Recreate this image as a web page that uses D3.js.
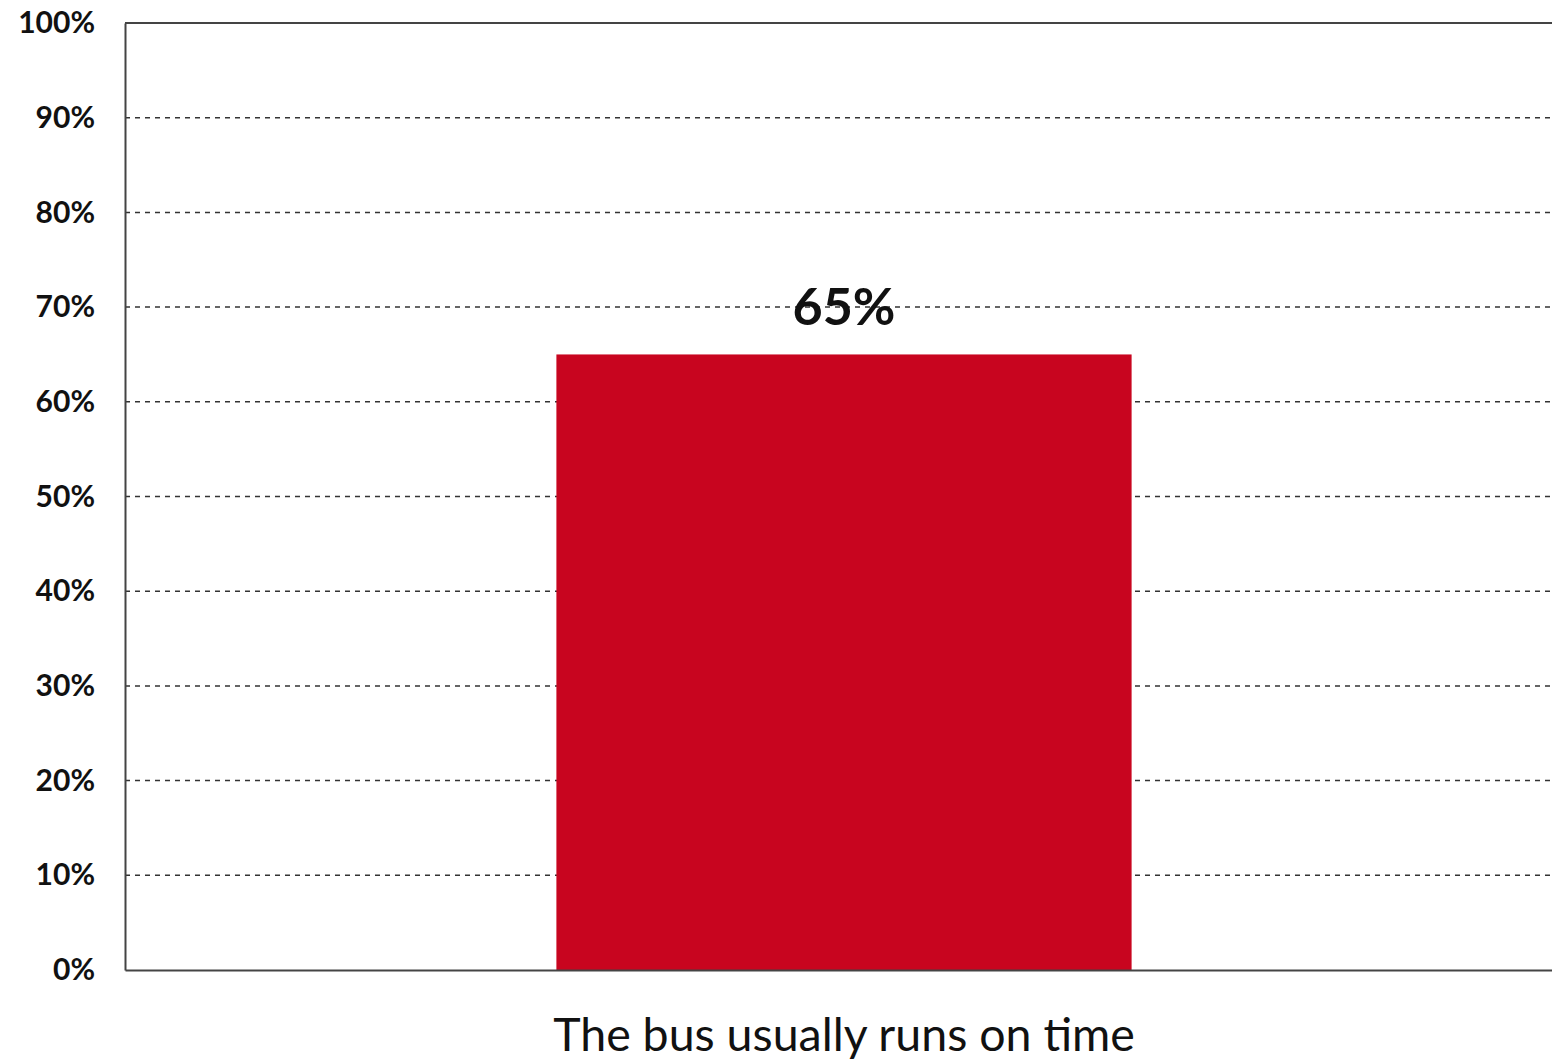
<!DOCTYPE html>
<html><head><meta charset="utf-8">
<script src="https://cdn.jsdelivr.net/npm/d3@7"></script>
<style>body{margin:0;background:#fff}svg{display:block}</style>
</head><body>
<script>
const categories = ["The bus usually runs on time"];
const values = [65];
const tickValues = [0,10,20,30,40,50,60,70,80,90,100];
const tickLabels = ["0%","10%","20%","30%","40%","50%","60%","70%","80%","90%","100%"];

(function(){
const W = 1552, H = 1061;
const mLeft = 125, mTop = 23, mBottom = 970, mRight = 1563;
const svg = d3.select("body").append("svg").attr("width", W).attr("height", H);

const y = d3.scaleLinear().domain([0,100]).range([mBottom, mTop]);
const x = d3.scaleBand().domain(categories).range([mLeft, mRight]).paddingInner(0.6).paddingOuter(0.3);

const font = "Lato, 'Open Sans', sans-serif";

svg.append("g").selectAll("line").data(tickValues.filter(v => v > 0 && v < 100)).join("line")
  .attr("x1", mLeft).attr("x2", mRight).attr("y1", d => y(d)).attr("y2", d => y(d))
  .attr("stroke", "#333").attr("stroke-width", 1.5).attr("stroke-dasharray", "5,5");

svg.append("g").selectAll("rect").data(values).join("rect")
  .attr("x", (d,i) => x(categories[i])).attr("width", x.bandwidth())
  .attr("y", d => y(d)).attr("height", d => y(0) - y(d))
  .attr("fill", "#C8051F");

svg.append("line").attr("x1", mLeft).attr("x2", mRight).attr("y1", y(100)).attr("y2", y(100))
  .attr("stroke", "#444").attr("stroke-width", 2);

const yAxis = d3.axisLeft(y).tickValues(tickValues).tickFormat((d,i) => tickLabels[i]).tickSize(0).tickPadding(30);
const gy = svg.append("g").attr("transform", `translate(${mLeft},0)`).call(yAxis);
gy.select(".domain").attr("stroke", "#444").attr("stroke-width", 2);
gy.selectAll("text").attr("font-family", font).attr("font-weight", "bold").attr("font-size", 30).attr("fill", "#111");

const xAxis = d3.axisBottom(x).tickSize(0).tickPadding(48);
const gx = svg.append("g").attr("transform", `translate(0,${mBottom})`).call(xAxis);
gx.select(".domain").attr("stroke", "#444").attr("stroke-width", 2);
gx.selectAll("text").attr("font-family", font).attr("font-size", 46.5).attr("fill", "#111");

svg.append("g").selectAll("text").data(values).join("text")
  .attr("x", (d,i) => x(categories[i]) + x.bandwidth()/2).attr("y", d => y(d) - 29)
  .attr("text-anchor", "middle").attr("font-family", font).attr("font-weight", "bold")
  .attr("font-size", 52).attr("fill", "#111").text(d => d + "%");
})();
</script>
</body></html>
